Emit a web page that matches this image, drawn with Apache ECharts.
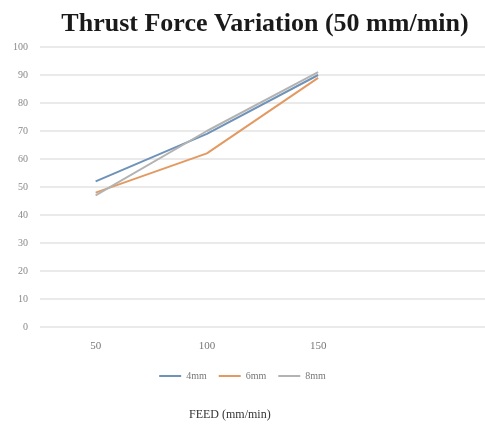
<!DOCTYPE html>
<html><head><meta charset="utf-8">
<script src="https://cdn.jsdelivr.net/npm/echarts@6/dist/echarts.min.js"></script>
<style>html,body{margin:0;padding:0;background:#fff}#c{width:485px;height:432px}</style>
</head><body><div id="c"></div>
<script>
const categories = ['50', '100', '150', ''];
const s4mm = [52, 69, 90, null];
const s6mm = [48, 62, 89, null];
const s8mm = [47, 70, 91, null];
const seriesNames = ['4mm', '6mm', '8mm'];
const colors = ['#6f93b8', '#e39a62', '#b3b3b3'];
const chart = echarts.init(document.getElementById('c'));
chart.setOption({
  animation: false,
  backgroundColor: '#fff',
  color: colors,
  title: {
    text: 'Thrust Force Variation (50 mm/min)',
    left: 260, top: 6, textAlign: 'center',
    textStyle: {fontFamily: 'Liberation Serif', fontWeight: 'bold', fontSize: 26, color: '#1a1a1a'}
  },
  grid: {left: 40, right: 0, top: 47, bottom: 105},
  legend: {
    data: seriesNames, bottom: 46, left: 'center', itemWidth: 22, itemHeight: 2, itemGap: 12,
    icon: 'rect',
    textStyle: {fontFamily: 'Liberation Serif', fontSize: 10, color: '#777'}
  },
  xAxis: {
    type: 'category', data: categories, boundaryGap: true,
    axisLine: {show: false}, axisTick: {show: false},
    axisLabel: {fontFamily: 'Liberation Serif', fontSize: 11, color: '#777', margin: 14}
  },
  yAxis: {
    type: 'value', min: 0, max: 100, interval: 10,
    axisLine: {show: false}, axisTick: {show: false},
    splitLine: {lineStyle: {color: '#e3e3e3', width: 1.5}},
    axisLabel: {fontFamily: 'Liberation Serif', fontSize: 10, color: '#888', margin: 12}
  },
  graphic: [{
    type: 'text', left: 189, top: 409,
    style: {text: 'FEED (mm/min)', fontFamily: 'Liberation Serif', fontSize: 12, fill: '#333'}
  }],
  series: [
    {name: seriesNames[0], type: 'line', data: s4mm, symbol: 'none', lineStyle: {width: 2}},
    {name: seriesNames[1], type: 'line', data: s6mm, symbol: 'none', lineStyle: {width: 2}},
    {name: seriesNames[2], type: 'line', data: s8mm, symbol: 'none', lineStyle: {width: 2}}
  ]
});
</script></body></html>
